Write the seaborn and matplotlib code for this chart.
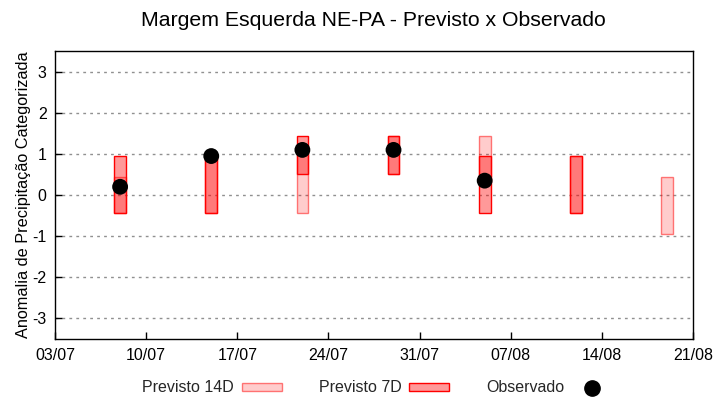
import matplotlib
matplotlib.use("Agg")
import matplotlib.pyplot as plt
import matplotlib.dates as mdates
from matplotlib.patches import Patch
from matplotlib.lines import Line2D
import numpy as np
import pandas as pd
import seaborn as sns

# ---- data ----
dates = ["2024-07-08", "2024-07-15", "2024-07-22", "2024-07-29",
         "2024-08-05", "2024-08-12", "2024-08-19"]
p14_low = [-0.45, -0.45, -0.45, 0.50, 0.45, -0.45, -0.95]
p14_high = [0.45, 0.95, 1.20, 1.45, 1.45, 0.95, 0.45]
p7_low = [-0.45, -0.45, 0.50, 0.50, -0.45, -0.45, np.nan]
p7_high = [0.95, 0.95, 1.45, 1.45, 0.95, 0.95, np.nan]
observed = [0.20, 0.95, 1.10, 1.10, 0.35, np.nan, np.nan]
xtick_dates = ["2024-07-03", "2024-07-10", "2024-07-17", "2024-07-24",
               "2024-07-31", "2024-08-07", "2024-08-14", "2024-08-21"]
yticks = [-3, -2, -1, 0, 1, 2, 3]

title = "Margem Esquerda NE-PA - Previsto x Observado"
ylabel = "Anomalia de Precipitação Categorizada"
labels = ["Previsto 14D", "Previsto 7D", "Observado"]

df = pd.DataFrame({
    "date": pd.to_datetime(dates),
    "p14_low": p14_low, "p14_high": p14_high,
    "p7_low": p7_low, "p7_high": p7_high,
    "obs": observed,
})

sns.set_theme(style="white")
plt.rcParams["font.family"] = ["Liberation Sans", "DejaVu Sans"]

fig = plt.figure(figsize=(7.2, 4.0), dpi=100)
ax = fig.add_axes([55 / 720, 61.5 / 400, 638 / 720, 287 / 400])

xnum = mdates.date2num(df["date"])
w = 0.9

c14_face = (1, 0, 0, 0.2)
c14_edge = (1, 0, 0, 0.5)
c7_face = (1, 0, 0, 0.4)
c7_edge = (1, 0, 0, 1.0)

m14 = ~df["p14_low"].isna()
ax.bar(xnum[m14], (df["p14_high"] - df["p14_low"])[m14], bottom=df["p14_low"][m14],
       width=w, color=c14_face, edgecolor=c14_edge, linewidth=1.0, zorder=3)
m7 = ~df["p7_low"].isna()
ax.bar(xnum[m7], (df["p7_high"] - df["p7_low"])[m7], bottom=df["p7_low"][m7],
       width=w, color=c7_face, edgecolor=c7_edge, linewidth=1.0, zorder=4)

dobs = df.dropna(subset=["obs"]).copy()
dobs["x"] = mdates.date2num(dobs["date"])
sns.scatterplot(data=dobs, x="x", y="obs", ax=ax, color="black", s=130,
                edgecolor="none", zorder=5, legend=False)

ax.set_xlim(mdates.date2num(pd.to_datetime(xtick_dates[0])),
            mdates.date2num(pd.to_datetime(xtick_dates[-1])))
ax.set_ylim(-3.5, 3.5)
ax.set_xticks(mdates.date2num(pd.to_datetime(xtick_dates)))
ax.set_xticklabels([pd.to_datetime(d).strftime("%d/%m") for d in xtick_dates])
ax.set_yticks(yticks)
ax.set_yticklabels([str(v) for v in yticks])

ax.yaxis.grid(True, color="#909090", linestyle=(0, (2, 3)), linewidth=1.0, zorder=1)
ax.xaxis.grid(False)
ax.set_axisbelow(True)
for s in ax.spines.values():
    s.set_color("black")
    s.set_linewidth(1.0)
ax.tick_params(axis="both", direction="in", length=5, width=1, color="black",
               labelsize=11.5, labelcolor="black", pad=6)
ax.tick_params(axis="x", pad=7)
ax.tick_params(left=True, bottom=True)

ax.set_xlabel("")
ax.set_ylabel(ylabel, fontsize=11.7, color="black", labelpad=1)
fig.suptitle(title, fontsize=15.3, x=0.519, y=0.95, va="center", color="black")

handles = [
    Patch(facecolor=c14_face, edgecolor=c14_edge, linewidth=1.0),
    Patch(facecolor=c7_face, edgecolor=c7_edge, linewidth=1.0),
    Line2D([], [], marker="o", color="black", linestyle="", markersize=11),
]
fig.legend(handles, labels, loc="center", bbox_to_anchor=(0.524, 0.03), ncol=3,
           frameon=False, markerfirst=False, fontsize=11.5, handlelength=2.5,
           handleheight=0.4, handletextpad=0.5, columnspacing=2.3)

fig.savefig("out.png", dpi=100)
